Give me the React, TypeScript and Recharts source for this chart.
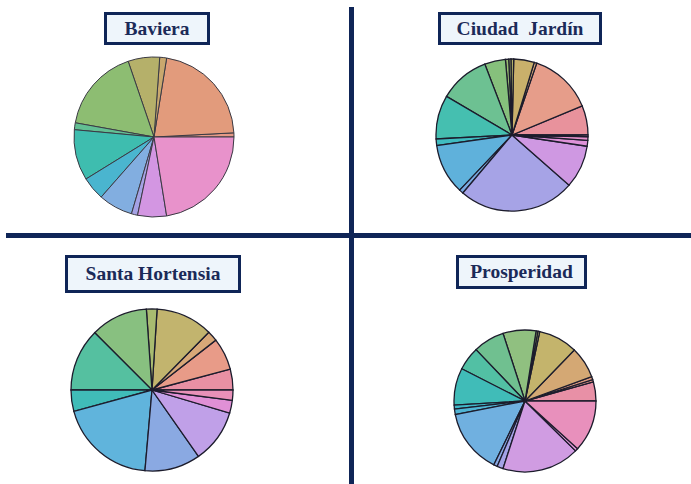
import React from "react";
import { PieChart, Pie, Cell } from "recharts";

const titles = ["Baviera", "Ciudad  Jardín", "Santa Hortensia", "Prosperidad"];

const bavieraValues = [3, 78, 5, 23, 61, 5, 37, 17, 25, 4.5, 21, 81];
const bavieraColors = ["#e59a86", "#e29b7c", "#c9a86e", "#b5b06a", "#8dbd72", "#62bf93", "#3ebdaf", "#4ab5cf", "#82aee0", "#a5a2e4", "#d396e2", "#e892cb"];

const ciudadValues = [22.5, 48.5, 2, 15.7, 2.1, 1.7, 2.5, 16, 38.5, 33.5, 5, 38.5, 3.2, 89, 32.8, 4.5, 2.7, 1.3];
const ciudadColors = ["#e8929c", "#e69d8a", "#d8a676", "#c9b06b", "#b5b56a", "#a8b86c", "#98bb70", "#86c07c", "#6dc192", "#45bfb0", "#40bcc0", "#5fb1db", "#7aaae2", "#a6a3e6", "#cf98e2", "#de92d8", "#e691cc", "#e991bb"];

const hortensiaValues = [15, 23, 7.5, 40.9, 7.6, 41, 45, 15.3, 69.7, 40, 38.5, 9.2, 7.3];
const hortensiaColors = ["#e890a4", "#e89b88", "#d8a878", "#c2b46e", "#a8bb70", "#88c080", "#55c0a0", "#40bcb8", "#60b4dc", "#8aa9e2", "#c0a0e8", "#e090d6", "#e891b8"];

const prosperidadValues = [15.7, 1.8, 2.5, 26, 32, 1.5, 1.5, 27, 25.7, 19.3, 30.3, 3.2, 4.5, 53, 3, 5, 63.4, 2.4, 42.2];
const prosperidadColors = ["#e890a6", "#e6968c", "#e09c80", "#d4a874", "#c4b46c", "#b4b86c", "#a4bb70", "#90c080", "#70c090", "#52c0a4", "#40bcb8", "#40b8c8", "#50b4d4", "#70b0e0", "#8aa8e4", "#a4a2e6", "#d09ce2", "#e094d6", "#e890bc"];

const toData = (vals: number[]) => vals.map((v, i) => ({ name: "s" + i, value: v }));

const NAVY = "#0f2557";

const boxStyle = (left: number, top: number, width: number, height: number): React.CSSProperties => ({
  position: "absolute",
  left,
  top,
  width,
  height,
  boxSizing: "border-box",
  border: `3px solid ${NAVY}`,
  background: "#eef5fb",
  display: "flex",
  alignItems: "center",
  justifyContent: "center",
  fontFamily: "'Liberation Serif', 'Times New Roman', serif",
  fontWeight: "bold",
  fontSize: 19.5,
  color: "#1b2a58",
  whiteSpace: "pre",
});

export default function App() {
  const pies = [
    { vals: bavieraValues, cols: bavieraColors, cx: 154, cy: 137, r: 80, stroke: "#3a3a44", sw: 1 },
    { vals: ciudadValues, cols: ciudadColors, cx: 512, cy: 135, r: 76, stroke: "#1c1c2c", sw: 1.3 },
    { vals: hortensiaValues, cols: hortensiaColors, cx: 152, cy: 390, r: 81, stroke: "#1c1c2c", sw: 1.3 },
    { vals: prosperidadValues, cols: prosperidadColors, cx: 525, cy: 401, r: 71, stroke: "#1c1c2c", sw: 1.3 },
  ];
  return (
    <div style={{ position: "absolute", left: 0, top: 0, width: 691, height: 484, background: "#fff", overflow: "hidden" }}>
      <PieChart width={691} height={484} margin={{ top: 0, right: 0, bottom: 0, left: 0 }} style={{ position: "absolute", left: 0, top: 0 }}>
        {pies.map((p, k) => (
          <Pie
            key={k}
            data={toData(p.vals)}
            dataKey="value"
            cx={p.cx}
            cy={p.cy}
            innerRadius={0}
            outerRadius={p.r}
            startAngle={0}
            endAngle={360}
            isAnimationActive={false}
            label={false}
            labelLine={false}
            stroke={p.stroke}
            strokeWidth={p.sw}
          >
            {p.vals.map((_, i) => (
              <Cell key={i} fill={p.cols[i]} />
            ))}
          </Pie>
        ))}
      </PieChart>
      <div style={{ position: "absolute", left: 349, top: 7, width: 5, height: 477, background: NAVY }} />
      <div style={{ position: "absolute", left: 6, top: 233, width: 685, height: 5, background: NAVY }} />
      <div style={boxStyle(104, 12, 106, 33)}>{titles[0]}</div>
      <div style={boxStyle(438, 12, 164, 33)}>{titles[1]}</div>
      <div style={boxStyle(65, 255, 176, 38)}>{titles[2]}</div>
      <div style={boxStyle(456, 255, 131, 34)}>{titles[3]}</div>
    </div>
  );
}
